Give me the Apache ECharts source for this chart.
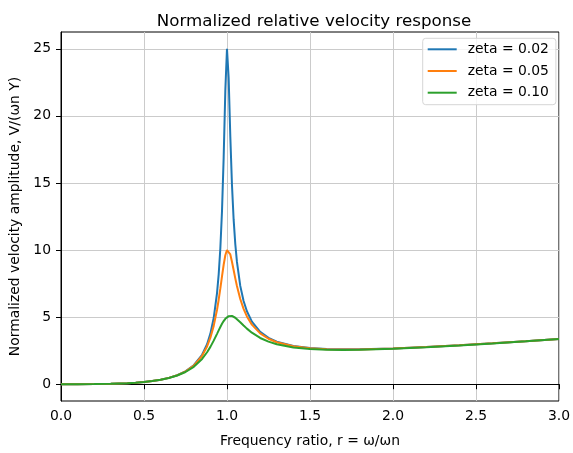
<!DOCTYPE html>
<html>
<head>
<meta charset="utf-8">
<script src="https://cdn.jsdelivr.net/npm/echarts@6/dist/echarts.min.js"></script>
<style>
html,body{margin:0;padding:0;background:#fff;}
#chart{width:573px;height:453px;}
</style>
</head>
<body>
<div id="chart"></div>
<script>
const titleText = 'Normalized relative velocity response';
const xName = 'Frequency ratio, r = ω/ωn';
const yName = 'Normalized velocity amplitude, V/(ωn Y)';
const seriesNames = ['zeta = 0.02', 'zeta = 0.05', 'zeta = 0.10'];
const yTicks = [0, 5, 10, 15, 20, 25];

const r = [0, 0.1, 0.2, 0.3, 0.4, 0.45, 0.5, 0.55, 0.6, 0.65, 0.7, 0.75, 0.8, 0.85, 0.88, 0.9, 0.92, 0.94, 0.95, 0.96, 0.97, 0.98, 0.99, 1.0, 1.01, 1.02, 1.03, 1.04, 1.05, 1.06, 1.08, 1.1, 1.12, 1.15, 1.2, 1.25, 1.3, 1.4, 1.5, 1.6, 1.7, 1.8, 2.0, 2.2, 2.4, 2.6, 2.8, 3.0];

const z02 = [0, 0.001, 0.0083, 0.0297, 0.0762, 0.1143, 0.1667, 0.2384, 0.3373, 0.4751, 0.6715, 0.962, 1.4166, 2.1966, 2.9846, 3.7698, 4.93, 6.7902, 8.1932, 10.1344, 12.9095, 16.891, 21.894, 25.0, 22.833, 18.482, 14.862, 12.2813, 10.4506, 9.1147, 7.3275, 6.2034, 5.4388, 4.6687, 3.9041, 3.4586, 3.175, 2.8535, 2.6969, 2.6234, 2.5978, 2.6022, 2.6657, 2.7722, 2.9036, 3.0509, 3.2089, 3.3746];

const z05 = [0, 0.001, 0.0083, 0.0297, 0.0762, 0.1141, 0.1663, 0.2378, 0.336, 0.4726, 0.6663, 0.9504, 1.3884, 2.116, 2.8142, 3.4675, 4.3491, 5.5513, 6.2982, 7.1382, 8.035, 8.9045, 9.6089, 10.0, 10.0048, 9.6729, 9.1322, 8.5093, 7.8892, 7.3146, 6.3502, 5.6145, 5.0544, 4.4419, 3.7889, 3.3895, 3.129, 2.8284, 2.6808, 2.6119, 2.589, 2.5952, 2.6608, 2.7684, 2.9005, 3.0483, 3.2067, 3.3726];

const z10 = [0, 0.001, 0.0083, 0.0297, 0.0758, 0.1135, 0.1652, 0.2356, 0.3317, 0.4639, 0.6486, 0.9122, 1.2997, 1.8871, 2.3817, 2.7853, 3.2487, 3.7563, 4.0147, 4.266, 4.5004, 4.7069, 4.8759, 5.0, 5.0754, 5.1029, 5.0869, 5.0345, 4.9539, 4.8534, 4.6201, 4.3763, 4.1448, 3.8395, 3.4477, 3.173, 2.9795, 2.744, 2.6254, 2.5721, 2.5584, 2.5706, 2.6433, 2.7549, 2.8895, 3.0391, 3.1986, 3.3655];

const colors = ['#1f77b4', '#ff7f0e', '#2ca02c'];
const FONT = 'DejaVu Sans';

function pairs(vals) { return r.map((x, i) => [x, vals[i]]); }

const chart = echarts.init(document.getElementById('chart'), null, {renderer: 'canvas'});
chart.setOption({
  animation: false,
  backgroundColor: '#fff',
  title: {
    text: titleText,
    left: 309,
    top: 8,
    textAlign: 'center',
    textStyle: {fontFamily: FONT, fontSize: 16.7, fontWeight: 'normal', color: '#000'}
  },
  grid: {
    left: 60, right: 9.7, top: 32, bottom: 46.3,
    show: true, borderColor: '#000', borderWidth: 1, backgroundColor: 'transparent'
  },
  legend: {
    orient: 'vertical',
    left: 422.7, top: 38.3,
    padding: [3, 7, 4, 5],
    icon: 'rect',
    itemWidth: 29, itemHeight: 2, itemGap: 5.7,
    backgroundColor: 'rgba(255,255,255,0.8)',
    borderColor: '#d6d6d6', borderWidth: 1, borderRadius: 3,
    textStyle: {fontFamily: FONT, fontSize: 13.9, color: '#000', lineHeight: 16, padding: [0, 0, 0, 6]},
    data: seriesNames
  },
  xAxis: {
    type: 'value', min: 0, max: 3, interval: 0.5,
    name: xName, nameLocation: 'middle', nameGap: 33,
    nameTextStyle: {fontFamily: FONT, fontSize: 13.9, color: '#000'},
    axisLine: {show: true, lineStyle: {color: '#000', width: 1}},
    axisTick: {show: true, inside: false, length: 5, lineStyle: {color: '#000', width: 1}},
    axisLabel: {fontFamily: FONT, fontSize: 13.9, color: '#000', margin: 8,
      formatter: v => v.toFixed(1)},
    splitLine: {show: true, lineStyle: {color: '#cbcbcb', width: 1}}
  },
  yAxis: {
    type: 'value', min: -1.25, max: 26.25,
    name: yName, nameLocation: 'middle', nameGap: 39, nameRotate: 90,
    nameTextStyle: {fontFamily: FONT, fontSize: 13.9, color: '#000'},
    axisLine: {show: true, lineStyle: {color: '#000', width: 1}},
    axisTick: {show: true, inside: false, length: 5, lineStyle: {color: '#000', width: 1}, customValues: yTicks},
    axisLabel: {fontFamily: FONT, fontSize: 13.9, color: '#000', margin: 10, customValues: yTicks,
      formatter: v => String(v)},
    splitLine: {show: true, lineStyle: {color: '#cbcbcb', width: 1}}
  },
  series: [z02, z05, z10].map((vals, i) => ({
    name: seriesNames[i],
    type: 'line',
    data: pairs(vals),
    symbol: 'none',
    smooth: false,
    color: colors[i],
    lineStyle: {color: colors[i], width: 2},
    clip: true
  }))
});
</script>
</body>
</html>
